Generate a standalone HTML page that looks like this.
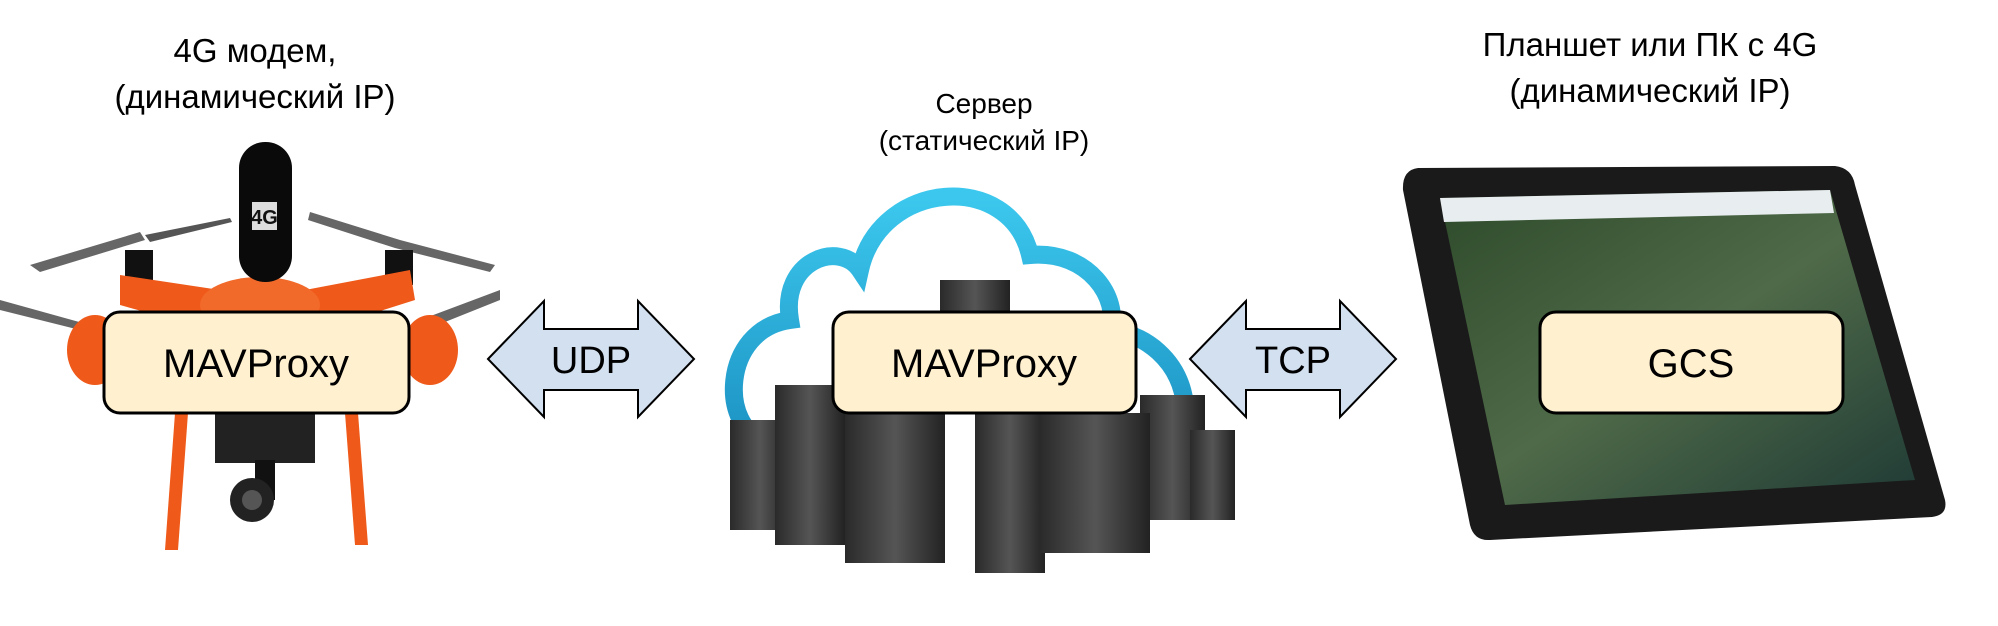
<!DOCTYPE html>
<html><head><meta charset="utf-8"><style>
body{margin:0;width:1998px;height:626px;background:#fff;overflow:hidden;font-family:"Liberation Sans","DejaVu Sans",sans-serif;}
svg{position:absolute;left:0;top:0}
</style></head><body>
<svg width="1998" height="626" viewBox="0 0 1998 626" xmlns="http://www.w3.org/2000/svg">
<defs>
<linearGradient id="cl" x1="0" y1="0" x2="0" y2="1"><stop offset="0" stop-color="#3cc8ee"/><stop offset="1" stop-color="#1a8fc0"/></linearGradient>
<linearGradient id="sv" x1="0" y1="0" x2="1" y2="0"><stop offset="0" stop-color="#2a2a2a"/><stop offset="0.5" stop-color="#555"/><stop offset="1" stop-color="#222"/></linearGradient>
<linearGradient id="scr" x1="0" y1="0" x2="1" y2="1"><stop offset="0" stop-color="#2d4a2a"/><stop offset="0.5" stop-color="#4f6a48"/><stop offset="1" stop-color="#1f3a35"/></linearGradient>
</defs>
<g>
<path d="M30 265 L140 232 L145 240 L40 272Z" fill="#666"/>
<path d="M145 235 L230 218 L232 222 L150 242Z" fill="#555"/>
<path d="M310 212 L400 240 L495 265 L490 272 L395 248 L308 220Z" fill="#666"/>
<path d="M0 300 L90 325 L88 332 L0 310Z" fill="#666"/>
<path d="M420 320 L500 290 L500 300 L425 330Z" fill="#666"/>
<ellipse cx="95" cy="350" rx="28" ry="35" fill="#ef5a1a"/>
<ellipse cx="430" cy="350" rx="28" ry="35" fill="#ef5a1a"/>
<rect x="125" y="250" width="28" height="35" fill="#111"/>
<rect x="385" y="250" width="28" height="35" fill="#111"/>
<path d="M120 275 L220 290 L305 290 L410 270 L415 300 L320 330 L210 330 L120 305Z" fill="#ef5a1a"/>
<ellipse cx="260" cy="305" rx="60" ry="28" fill="#f26a2a"/>
<rect x="239" y="142" width="53" height="140" rx="26" fill="#0a0a0a"/>
<rect x="252" y="202" width="25" height="28" fill="#ddd"/>
<text x="264.5" y="224" font-size="20" text-anchor="middle" fill="#111" font-weight="bold">4G</text>
<path d="M175 413 L165 550 L178 550 L188 413Z" fill="#ef5a1a"/>
<path d="M345 413 L355 545 L368 545 L358 413Z" fill="#ef5a1a"/>
<rect x="215" y="413" width="100" height="50" fill="#222"/>
<rect x="255" y="460" width="20" height="40" fill="#111"/>
<circle cx="252" cy="500" r="22" fill="#222"/><circle cx="252" cy="500" r="10" fill="#555"/>
</g>
<path d="M765 440 C720 430 720 330 790 320 C780 260 840 240 860 270 C880 180 1010 170 1030 255 C1090 250 1120 300 1110 330 C1190 340 1210 440 1150 460" fill="none" stroke="url(#cl)" stroke-width="18"/>
<g>
<rect x="730" y="420" width="60" height="110" fill="url(#sv)"/>
<rect x="775" y="385" width="70" height="160" fill="url(#sv)"/>
<rect x="940" y="280" width="70" height="130" fill="url(#sv)"/>
<rect x="1140" y="395" width="65" height="125" fill="url(#sv)"/>
<rect x="1190" y="430" width="45" height="90" fill="url(#sv)"/>
<rect x="845" y="413" width="100" height="150" fill="url(#sv)"/>
<rect x="975" y="413" width="70" height="160" fill="url(#sv)"/>
<rect x="1040" y="413" width="110" height="140" fill="url(#sv)"/>
</g>
<path d="M1418 168 L1835 166 Q1852 168 1855 185 L1945 500 Q1948 515 1932 517 L1490 540 Q1474 541 1470 525 L1403 190 Q1402 170 1418 168Z" fill="#1a1a1a"/>
<path d="M1440 198 L1830 190 L1915 480 L1505 505Z" fill="url(#scr)"/>
<path d="M1440 198 L1830 190 L1834 213 L1444 222Z" fill="#e8eef0"/>
<polygon points="488,359 544,301 544,329 638,329 638,301 694,359 638,417 638,390 544,390 544,417" fill="#d3e0f0" stroke="#000" stroke-width="2"/>
<polygon points="1190,359 1246,301 1246,329 1340,329 1340,301 1396,359 1340,417 1340,390 1246,390 1246,417" fill="#d3e0f0" stroke="#000" stroke-width="2"/>
<text x="591" y="373" font-size="38" text-anchor="middle">UDP</text>
<text x="1293" y="373" font-size="38" text-anchor="middle">TCP</text>
<rect x="104" y="312" width="305" height="101" rx="16" fill="#fff0cf" stroke="#000" stroke-width="3"/>
<rect x="833" y="312" width="303" height="101" rx="16" fill="#fff0cf" stroke="#000" stroke-width="3"/>
<rect x="1540" y="312" width="303" height="101" rx="16" fill="#fff0cf" stroke="#000" stroke-width="3"/>
<text x="256" y="377" font-size="40" text-anchor="middle">MAVProxy</text>
<text x="984" y="377" font-size="40" text-anchor="middle">MAVProxy</text>
<text x="1691" y="377" font-size="40" text-anchor="middle">GCS</text>
<text x="255" y="62" font-size="33" text-anchor="middle">4G модем,</text>
<text x="255" y="108" font-size="33" text-anchor="middle">(динамический IP)</text>
<text x="984" y="113" font-size="28" text-anchor="middle">Сервер</text>
<text x="984" y="150" font-size="28" text-anchor="middle">(статический IP)</text>
<text x="1650" y="56" font-size="33" text-anchor="middle">Планшет или ПК с 4G</text>
<text x="1650" y="102" font-size="33" text-anchor="middle">(динамический IP)</text>
</svg>
</body></html>
